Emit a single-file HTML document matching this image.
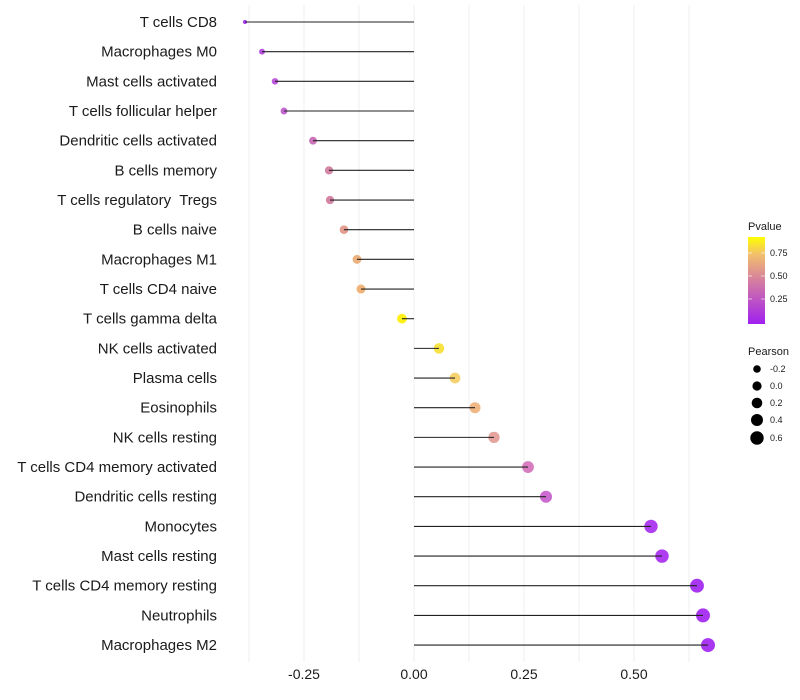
<!DOCTYPE html>
<html><head><meta charset="utf-8"><style>html,body{margin:0;padding:0;background:#fff;}svg{display:block;font-family:"Liberation Sans",sans-serif;}text{white-space:pre;}</style></head>
<body>
<svg width="800" height="700" viewBox="0 0 800 700" xmlns="http://www.w3.org/2000/svg">
<defs><linearGradient id="g" x1="0" y1="1" x2="0" y2="0"><stop offset="0" stop-color="#a020f0"/><stop offset="0.5" stop-color="#d57ea0"/><stop offset="0.8" stop-color="#f2bf6c"/><stop offset="1" stop-color="#ffff00"/></linearGradient></defs>
<g stroke="#efefef" stroke-width="1">
<line x1="249" y1="5" x2="249" y2="662"/><line x1="304" y1="5" x2="304" y2="662"/><line x1="359" y1="5" x2="359" y2="662"/><line x1="414" y1="5" x2="414" y2="662"/><line x1="469" y1="5" x2="469" y2="662"/><line x1="524" y1="5" x2="524" y2="662"/><line x1="579" y1="5" x2="579" y2="662"/><line x1="634" y1="5" x2="634" y2="662"/><line x1="689" y1="5" x2="689" y2="662"/>
</g>
<g id="rows" font-size="15" fill="#1a1a1a" text-anchor="end"></g>
<g font-size="14" fill="#1a1a1a" text-anchor="middle">
<text x="304" y="679">-0.25</text><text x="414" y="679">0.00</text><text x="524" y="679">0.25</text><text x="634" y="679">0.50</text>
</g>
<text x="748" y="230" font-size="11" fill="#1a1a1a">Pvalue</text>
<rect x="748" y="237" width="17" height="87" fill="url(#g)"/>
<g stroke="#fff" stroke-width="1" opacity="0.6"><line x1="748" y1="253" x2="752" y2="253"/><line x1="761" y1="253" x2="765" y2="253"/><line x1="748" y1="276" x2="752" y2="276"/><line x1="761" y1="276" x2="765" y2="276"/><line x1="748" y1="299" x2="752" y2="299"/><line x1="761" y1="299" x2="765" y2="299"/></g>
<g font-size="9" fill="#1a1a1a"><text x="770" y="256">0.75</text><text x="770" y="279">0.50</text><text x="770" y="302">0.25</text></g>
<text x="748" y="355" font-size="11" fill="#1a1a1a">Pearson</text>
<g fill="#000"><circle cx="757" cy="369" r="3.8"/><circle cx="757" cy="386" r="4.6"/><circle cx="757" cy="403" r="5.3"/><circle cx="757" cy="420" r="6"/><circle cx="757" cy="438" r="6.7"/></g>
<g font-size="9" fill="#1a1a1a"><text x="770" y="372">-0.2</text><text x="770" y="389">0.0</text><text x="770" y="406">0.2</text><text x="770" y="423">0.4</text><text x="770" y="441">0.6</text></g>
<script>
var d=[["T cells CD8",245,"#a020f0"],["Macrophages M0",262,"#b040e0"],["Mast cells activated",275,"#b848d8"],["T cells follicular helper",284,"#bd58cc"],["Dendritic cells activated",313,"#c866b4"],["B cells memory",329,"#d0789c"],["T cells regulatory  Tregs",330,"#d0789c"],["B cells naive",344,"#e09484"],["Macrophages M1",357,"#eaaa70"],["T cells CD4 naive",361,"#eeac6a"],["T cells gamma delta",402,"#ffee00"],["NK cells activated",439,"#f8e030"],["Plasma cells",455,"#f5cd60"],["Eosinophils",475,"#eeb07a"],["NK cells resting",494,"#e29a92"],["T cells CD4 memory activated",528,"#d270b8"],["Dendritic cells resting",546,"#c65ccc"],["Monocytes",651,"#a62af0"],["Mast cells resting",662,"#a628f0"],["T cells CD4 memory resting",697,"#a020f0"],["Neutrophils",703,"#a020f0"],["Macrophages M2",708,"#a020f0"]];
var ns="http://www.w3.org/2000/svg",s=document.querySelector("svg"),g=document.getElementById("rows");
d.forEach(function(r,i){var y=22+i*29.67;var v=(r[1]-414)/440;var rad=2+5*Math.sqrt(Math.max(0,(v+0.384)/1.054));
var t=document.createElementNS(ns,"text");t.setAttribute("x",217);t.setAttribute("y",y+5);t.textContent=r[0];g.appendChild(t);
var c=document.createElementNS(ns,"circle");c.setAttribute("cx",r[1]);c.setAttribute("cy",y);c.setAttribute("r",rad);c.setAttribute("fill",r[2]);c.setAttribute("fill-opacity","0.9");s.appendChild(c);
var l=document.createElementNS(ns,"line");l.setAttribute("x1",414);l.setAttribute("x2",r[1]);l.setAttribute("y1",y);l.setAttribute("y2",y);l.setAttribute("stroke","#222");l.setAttribute("stroke-width","1.1");s.appendChild(l);});
</script>
</svg>
</body></html>
